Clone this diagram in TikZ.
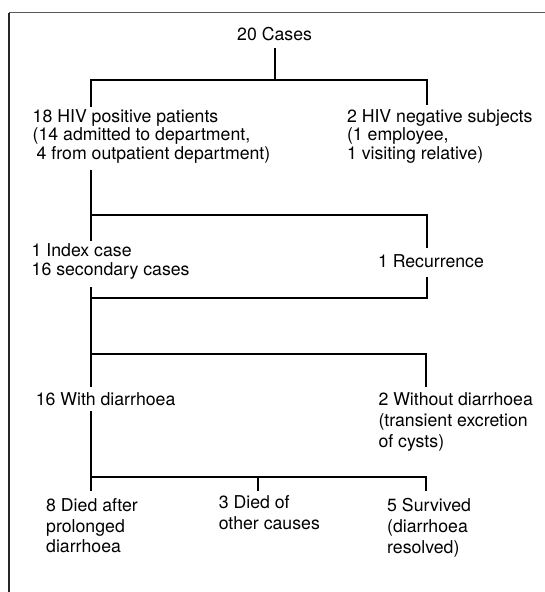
\documentclass[tikz,border=0pt]{standalone}
\usepackage{fontspec}
\setmainfont{TeX Gyre Heros}
\newcommand{\tb}[2]{{\fontsize{17.7}{#1}\selectfont\begin{tabular}[t]{@{}l@{}}#2\end{tabular}}}
\tikzset{
  conn/.style={line width=2pt, line join=miter},
  txt/.style={inner sep=0pt, outer sep=0pt, anchor=base west, font=\fontsize{17.7}{18.5}\selectfont},
  frameline/.style={line width=1.3pt}
}
\begin{document}
\begin{tikzpicture}[x=1pt,y=-1pt]
\useasboundingbox (0,0) rectangle (545,592);
% frame
\coordinate (ftr) at (545,12.5);
\coordinate (ftl) at (9,12.5);
\coordinate (fbl) at (9,592);
\draw[frameline, black!65] (ftr) -- (ftl);
\draw[frameline, black!85] (ftl) -- (fbl);

% texts
\node[txt, anchor=base] (cases) at (274.6,40) {20 Cases};
\node[txt] (hivpos) at (32.7,122.3) {\tb{18.5}{18 HIV positive patients\\(14 admitted to department,\\\hspace*{4pt}4 from outpatient department)}};
\node[txt] (hivneg) at (347,122.3) {\tb{18.5}{2 HIV negative subjects\\(1 employee,\\1 visiting relative)}};
\node[txt] (index) at (31.7,256.7) {\tb{18.3}{1 Index case\\16 secondary cases}};
\node[txt] (recur) at (378,267) {1 Recurrence};
\node[txt] (withd) at (35.8,405.5) {16 With diarrhoea};
\node[txt] (withoutd) at (378.5,405.5) {\tb{21}{2 Without diarrhoea\\(transient excretion\\of cysts)}};
\node[txt] (died1) at (46.2,511.7) {\tb{20.5}{8 Died after\\prolonged\\diarrhoea}};
\node[txt] (died2) at (218.8,508.5) {\tb{21}{3 Died of\\other causes}};
\node[txt] (surv) at (387.2,511.7) {\tb{21}{5 Survived\\(diarrhoea\\resolved)}};

% connector points
\coordinate (c0) at (275,48);
\coordinate (c1) at (275,80);
\coordinate (b1l) at (91,80);
\coordinate (b1r) at (427,80);
\coordinate (p1) at (91,107);
\coordinate (n1) at (427,105);

\coordinate (p2) at (91,170);
\coordinate (b2l) at (91,215);
\coordinate (b2r) at (427,215);
\coordinate (i1) at (91,241);
\coordinate (r1) at (427,248);

\coordinate (r2) at (427,277);
\coordinate (b3r) at (427,298);
\coordinate (b3l) at (91,298);
\coordinate (i2) at (91,287);
\coordinate (w1) at (91,387);

\coordinate (b4l) at (91,354);
\coordinate (b4r) at (426,354);
\coordinate (wo1) at (426,387);

\coordinate (w2) at (91,411);
\coordinate (b5l) at (91,477);
\coordinate (d1) at (91,491);
\coordinate (b5m) at (258,477);
\coordinate (d2) at (258,491);
\coordinate (b5r) at (426,477);
\coordinate (d3) at (426,491);

% connectors
\draw[conn] (c0) -- (c1);
\draw[conn] (p1) -- (b1l) -- (b1r) -- (n1);
\draw[conn] (p2) -- (i1);
\draw[conn] (b2l) -- (b2r) -- (r1);
\draw[conn] (r2) -- (b3r) -- (b3l);
\draw[conn] (i2) -- (w1);
\draw[conn] (b4l) -- (b4r) -- (wo1);
\draw[conn] (w2) -- (d1);
\draw[conn] (b5l) -- (b5r) -- (d3);
\draw[conn] (b5m) -- (d2);
\end{tikzpicture}
\end{document}
